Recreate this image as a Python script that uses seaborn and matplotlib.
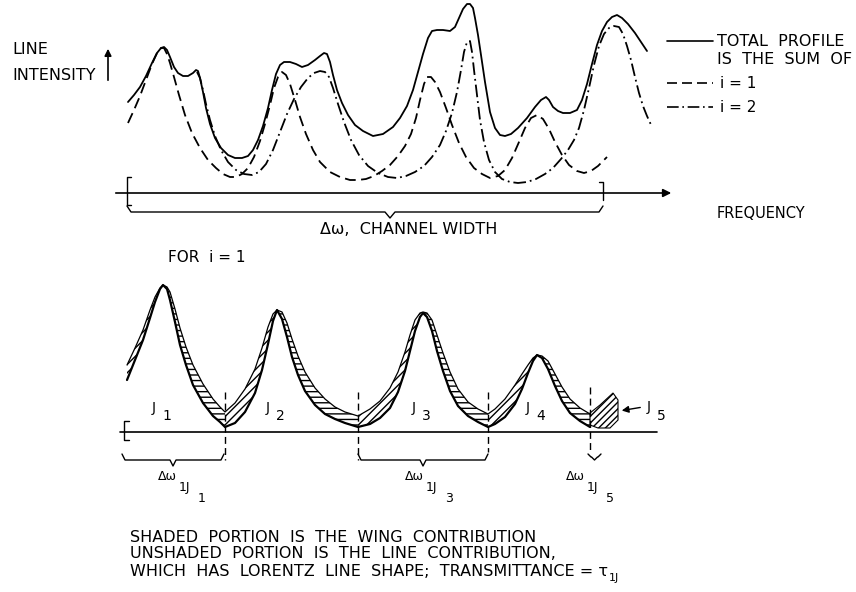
import numpy as np
import pandas as pd
import matplotlib
matplotlib.use("Agg")
import matplotlib.pyplot as plt
import seaborn as sns

# ---- upper panel: total profile and its two components ----
total_x = [128, 134, 140, 146, 152, 157, 161, 164, 167, 170, 174, 178, 183, 188, 193, 196, 198,
           200, 203, 206, 210, 215, 221, 228, 235, 242, 248, 253, 258, 263, 268, 272, 276, 280,
           284, 290, 296, 302, 308, 315, 320, 324, 327, 330, 333, 337, 342, 348, 355, 363, 373,
           383, 393, 400, 407, 413, 418, 423, 428, 432, 437, 443, 450, 455, 459, 463, 467, 470,
           473, 475, 478, 481, 485, 490, 495, 500, 505, 511, 518, 527, 535, 541, 546, 549, 553,
           558, 563, 570, 577, 582, 587, 592, 597, 602, 607, 612, 617, 622, 628, 635, 641, 647]
total_y = [102, 95, 87, 76, 63, 53, 48, 47, 50, 57, 67, 73, 76, 76, 73, 70, 71,
           78, 92, 108, 124, 138, 148, 155, 158, 158, 156, 150, 140, 126, 108, 90, 74, 65,
           62, 62, 64, 67, 65, 60, 56, 53, 54, 62, 75, 90, 103, 115, 125, 131, 136,
           134, 127, 118, 106, 90, 72, 54, 38, 31, 30, 30, 31, 27, 18, 9, 4, 4,
           8, 18, 35, 55, 82, 112, 128, 135, 136, 134, 128, 118, 107, 100, 97, 100, 107,
           111, 113, 113, 110, 100, 84, 64, 45, 31, 22, 17, 15, 18, 24, 33, 42, 51]

i1_x = [128, 134, 140, 146, 152, 157, 161, 164, 167, 170, 174, 179, 185, 192, 200, 208, 216,
        223, 230, 236, 242, 248, 254, 260, 265, 270, 274, 278, 282, 286, 290, 295, 300, 306,
        313, 320, 330, 340, 350, 358, 366, 374, 382, 390, 398, 405, 411, 416, 420, 424, 427,
        431, 435, 440, 446, 452, 459, 466, 474, 482, 490, 498, 505, 512, 519, 525, 531, 537,
        543, 549, 555, 562, 569, 577, 584, 591, 598, 604, 607]
i1_y = [123, 110, 96, 80, 64, 53, 48, 48, 54, 63, 77, 95, 115, 133, 148, 160, 168,
        174, 177, 177, 174, 168, 157, 141, 124, 105, 88, 77, 72, 75, 84, 100, 117, 134,
        150, 162, 172, 177, 180, 180, 179, 176, 171, 165, 156, 146, 134, 118, 100, 84, 77,
        77, 82, 92, 108, 125, 143, 157, 168, 174, 178, 176, 170, 158, 142, 128, 118, 115,
        119, 129, 142, 155, 165, 171, 173, 171, 166, 160, 157]

i2_x = [197, 200, 203, 206, 210, 215, 221, 228, 236, 244, 252, 259, 266, 273, 280, 287, 294,
        301, 308, 314, 320, 325, 329, 333, 338, 344, 351, 359, 368, 378, 388, 397, 406, 415,
        424, 432, 440, 446, 452, 457, 461, 464, 467, 470, 472, 474, 477, 480, 484, 489, 495,
        502, 510, 518, 527, 536, 545, 553, 561, 568, 574, 579, 584, 589, 594, 599, 604, 609,
        614, 619, 623, 627, 631, 635, 639, 643, 647, 652]
i2_y = [72, 78, 90, 104, 120, 136, 150, 162, 170, 174, 175, 172, 164, 150, 132, 114, 99,
        87, 78, 73, 71, 72, 77, 88, 104, 122, 140, 155, 166, 173, 177, 178, 176, 172,
        166, 157, 145, 131, 113, 92, 70, 52, 42, 41, 52, 70, 95, 120, 142, 160, 172,
        179, 182, 183, 182, 179, 174, 168, 159, 150, 140, 128, 110, 88, 65, 46, 34, 28,
        26, 27, 34, 46, 60, 77, 93, 106, 116, 127]

# ---- lower panel: i = 1 lines (line shape) and total (line + wings) ----
low_x = [127, 135, 143, 150, 155, 160, 163, 167, 170, 175, 180, 186, 193, 203, 213, 220, 225,
         235, 245, 255, 262, 268, 273, 277, 282, 287, 292, 298, 305, 315, 325, 335, 345, 358,
         370, 380, 390, 398, 405, 410, 415, 420, 423, 427, 432, 437, 443, 450, 458, 468, 478, 488,
         495, 505, 515, 522, 528, 533, 537, 542, 548, 555, 562, 570, 580, 590]
line_shape = [380, 360, 340, 318, 302, 289, 285, 289, 300, 322, 345, 365, 385, 403, 416, 422, 427,
              423, 412, 393, 370, 344, 321, 310, 319, 337, 357, 375, 391, 405, 414, 419, 423, 427,
              424, 418, 408, 392, 371, 351, 331, 317, 313, 317, 331, 351, 371, 391, 406, 416, 422, 427,
              424, 417, 404, 389, 373, 361, 355, 358, 369, 386, 401, 413, 421, 427]
line_total = [365, 348, 330, 310, 297, 288, 285, 287, 292, 309, 328, 347, 365, 384, 399, 407, 412,
              403, 389, 369, 348, 327, 314, 310, 312, 323, 339, 356, 372, 388, 399, 407, 412, 416,
              409, 401, 388, 372, 352, 335, 320, 313, 312, 313, 320, 335, 353, 372, 389, 402, 409, 414,
              409, 399, 385, 374, 365, 358, 355, 356, 361, 374, 387, 399, 408, 414]
# line centres and interval edges (lower panel)
line_peaks = [163, 277, 423, 537]
interval_edges = [127, 225, 358, 488, 590]
line_names = ["1", "2", "3", "4"]
# J5 wing patch outline
j5_x = [590, 600, 613, 618, 618, 610, 598, 590]
j5_y = [413, 405, 393, 400, 420, 428, 428, 425]

sns.set_theme(style="white")
plt.rcParams["font.family"] = ["DejaVu Sans"]
plt.rcParams["text.color"] = "black"
plt.rcParams["hatch.linewidth"] = 1.0

fig = plt.figure(figsize=(8.56, 5.92), dpi=100)
ax = fig.add_axes([0, 0, 1, 1])
ax.set_xlim(0, 856)
ax.set_ylim(592, 0)
ax.axis("off")

# upper curves
top = pd.concat([
    pd.DataFrame({"freq": total_x, "inten": total_y, "series": "total"}),
    pd.DataFrame({"freq": i1_x, "inten": i1_y, "series": "i=1"}),
    pd.DataFrame({"freq": i2_x, "inten": i2_y, "series": "i=2"}),
])
sns.lineplot(data=top, x="freq", y="inten", style="series", sort=False, estimator=None,
             color="black", lw=1.3, legend=False, ax=ax,
             dashes={"total": "", "i=1": (6, 3), "i=2": (7, 2.2, 1, 2.2)})

# frequency axis, brackets and brace (upper)
ax.annotate("", xy=(674, 193), xytext=(113, 193),
            arrowprops=dict(arrowstyle="-|>", color="black", lw=1.2, mutation_scale=12))
ax.plot([131, 127, 127, 131], [177, 177, 205, 205], color="black", lw=1)
ax.plot([599, 603, 603], [182, 182, 200], color="black", lw=1)
ax.plot([127, 131, 385, 390, 395, 599, 603], [206, 212, 212, 218, 212, 212, 206], color="black", lw=1)
ax.annotate("", xy=(108, 46), xytext=(108, 83),
            arrowprops=dict(arrowstyle="-|>", color="black", lw=1.2, mutation_scale=10))

# legend
ax.plot([667, 713], [41, 41], color="black", lw=1.2)
ax.plot([667, 713], [83, 83], color="black", lw=1.2, dashes=(6, 3))
ax.plot([667, 713], [107, 107], color="black", lw=1.2, dashes=(7, 2.2, 1, 2.2))

fs = 11
ax.text(12, 49, "LINE", fontsize=11.5, va="center")
ax.text(12, 76, "INTENSITY", fontsize=11.5, va="center")
ax.text(717, 41, "TOTAL  PROFILE", fontsize=11.5, va="center")
ax.text(717, 60, "IS  THE  SUM  OF", fontsize=11.5, va="center")
ax.text(720, 83, "i = 1", fontsize=fs, va="center")
ax.text(720, 107, "i = 2", fontsize=fs, va="center")
ax.text(717, 214, "FREQUENCY", fontsize=10.5, va="center")
ax.text(320, 229, "Δω,  CHANNEL WIDTH", fontsize=11.5, va="center")
ax.text(168, 258, "FOR  i = 1", fontsize=fs, va="center")

# lower panel: hatched wing contributions
lx = np.array(low_x)
lo = np.array(line_shape)
up = np.array(line_total)
for k, pk in enumerate(line_peaks):
    left = (lx >= interval_edges[k]) & (lx <= pk)
    right = (lx >= pk) & (lx <= interval_edges[k + 1])
    ax.fill_between(lx[left], lo[left], up[left], facecolor="none", edgecolor="black",
                    hatch="////", lw=0)
    ax.fill_between(lx[right], lo[right], up[right], facecolor="none", edgecolor="black",
                    hatch="---", lw=0)
ax.fill(j5_x, j5_y, facecolor="none", edgecolor="black", hatch="/////", lw=0.8)

bottom = pd.concat([
    pd.DataFrame({"freq": low_x, "inten": line_shape, "series": "line"}),
    pd.DataFrame({"freq": low_x, "inten": line_total, "series": "total"}),
])
sns.lineplot(data=bottom, x="freq", y="inten", hue="series", size="series", sort=False,
             estimator=None, palette={"line": "black", "total": "black"},
             sizes={"line": 1.6, "total": 0.9}, legend=False, ax=ax)

ax.plot([120, 657], [432, 432], color="black", lw=1.2)
ax.plot([129, 124, 124, 129], [421, 421, 440, 440], color="black", lw=1)
for xe, y0, y1 in [(225, 392, 460), (358, 392, 460), (488, 392, 452), (590, 387, 452)]:
    ax.plot([xe, xe], [y0, y1], color="black", lw=1, dashes=(5, 3))

# braces under the intervals
for (b0, b1, h) in [(122, 224, 6), (358, 488, 6), (588, 601, 3)]:
    bm = (b0 + b1) / 2
    ax.plot([b0, b0 + 3, bm - 3, bm, bm + 3, b1 - 3, b1],
            [454, 454 + h, 454 + h, 454 + 2 * h, 454 + h, 454 + h, 454], color="black", lw=1)

# J labels
for k, pk in enumerate(line_peaks):
    ax.text(pk - 11, 408, "J", fontsize=10, va="center")
    ax.text(pk - 1, 416, line_names[k], fontsize=10, va="center")
ax.text(647, 407, "J", fontsize=10, va="center")
ax.text(657, 416, "5", fontsize=10, va="center")
ax.annotate("", xy=(619, 411), xytext=(643, 407),
            arrowprops=dict(arrowstyle="-|>", color="black", lw=1, mutation_scale=10))

for (xd, sub) in [(158, "1"), (405, "3"), (566, "5")]:
    ax.text(xd, 477, "Δω", fontsize=9, va="center")
    ax.text(xd + 21, 487, "1J", fontsize=9, va="center")
    ax.text(xd + 40, 498, sub, fontsize=9, va="center")

ax.text(130, 537, "SHADED  PORTION  IS  THE  WING  CONTRIBUTION", fontsize=11.5, va="center")
ax.text(130, 554, "UNSHADED  PORTION  IS  THE  LINE  CONTRIBUTION,", fontsize=11.5, va="center")
last = ax.text(130, 571, "WHICH  HAS  LORENTZ  LINE  SHAPE;  TRANSMITTANCE = τ", fontsize=11.5,
               va="center")
fig.canvas.draw()
tau_end = last.get_window_extent().transformed(ax.transData.inverted()).x1
ax.text(tau_end + 1, 578, "1J", fontsize=8, va="center")

fig.savefig("out.png", dpi=100)
